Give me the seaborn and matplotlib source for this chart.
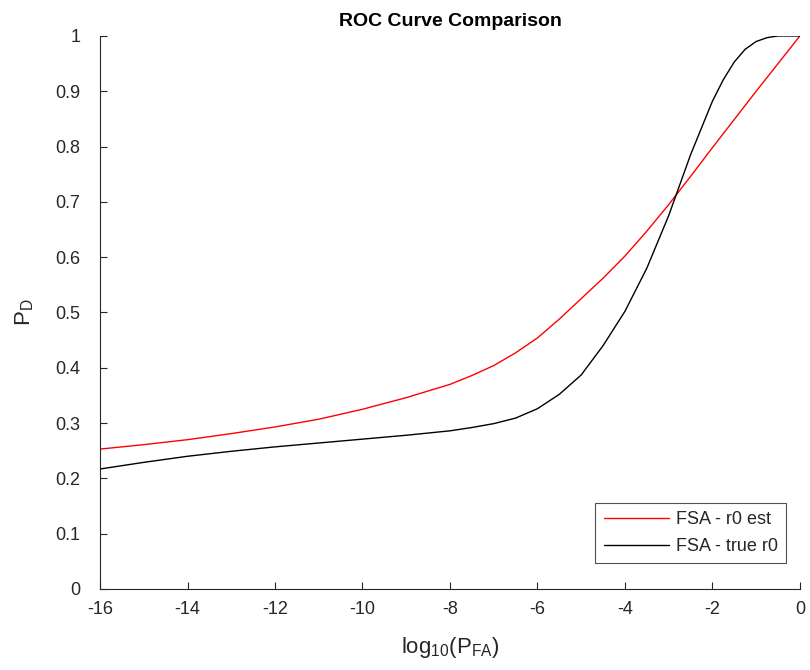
#
# plot.py
#   - ROC curve comparison, MATLAB style.
#

import numpy as np
import pandas as pd
import seaborn as sns
import matplotlib
matplotlib.use("Agg")
import matplotlib.pyplot as plt

# log10(P_FA) positions and P_D values
log_pfa_est = [-16, -15, -14, -13, -12, -11, -10, -9, -8, -7.5, -7, -6.5, -6,
               -5.5, -5, -4.5, -4, -3.5, -3, -2.5, -2, -1.5, -1, -0.5, 0]
pd_est = [0.253, 0.261, 0.270, 0.281, 0.293, 0.307, 0.325, 0.346, 0.370, 0.386,
          0.404, 0.427, 0.454, 0.488, 0.525, 0.562, 0.602, 0.647, 0.695, 0.746,
          0.798, 0.849, 0.900, 0.950, 1.0]

log_pfa_true = [-16, -15, -14, -13, -12, -11, -10, -9, -8, -7.5, -7, -6.5, -6,
                -5.5, -5, -4.5, -4, -3.5, -3, -2.5, -2, -1.75, -1.5, -1.25, -1,
                -0.75, -0.5, -0.25, 0]
pd_true = [0.217, 0.229, 0.240, 0.249, 0.257, 0.264, 0.271, 0.278, 0.286, 0.292,
           0.299, 0.309, 0.326, 0.352, 0.387, 0.440, 0.502, 0.580, 0.675, 0.785,
           0.882, 0.921, 0.953, 0.976, 0.990, 0.997, 1.0, 1.0, 1.0]

series_names = ["FSA - r0 est", "FSA - true r0"]
tick_x = list(range(-16, 1, 2))
tick_y = [round(v * 0.1, 1) for v in range(0, 11)]


def main():
    df = pd.concat([
        pd.DataFrame({"x": log_pfa_est, "y": pd_est, "curve": series_names[0]}),
        pd.DataFrame({"x": log_pfa_true, "y": pd_true, "curve": series_names[1]}),
    ])

    sns.set_style("white")
    plt.rcParams["font.family"] = ["Liberation Sans", "DejaVu Sans"]
    plt.rcParams["mathtext.default"] = "regular"
    plt.rcParams["xtick.direction"] = "in"
    plt.rcParams["ytick.direction"] = "in"

    fig = plt.figure(figsize=(8.1, 6.7), dpi=100)
    ax = fig.add_axes([0.1235, 0.1209, 0.864, 0.8254])

    sns.lineplot(data=df, x="x", y="y", hue="curve", sort=True,
                 palette={series_names[0]: "#ff0000", series_names[1]: "#000000"},
                 linewidth=1.0, ax=ax)

    ax.set_xlim(-16, 0)
    ax.set_ylim(0, 1)
    ax.set_xticks(tick_x)
    ax.set_yticks(tick_y)
    ax.set_xticklabels([str(t) for t in tick_x])
    ax.set_yticklabels(["0"] + [f"{t:g}" for t in tick_y[1:]])

    dark = "#262626"
    ax.tick_params(bottom=True, left=True, top=False, right=False,
                   direction="in", length=5, width=0.8, labelsize=13,
                   colors=dark)
    ax.tick_params(axis="x", direction="in", pad=9)
    ax.tick_params(axis="y", direction="in", pad=14)
    for side in ["top", "right"]:
        ax.spines[side].set_visible(False)
    for side in ["left", "bottom"]:
        ax.spines[side].set_color(dark)
        ax.spines[side].set_linewidth(0.8)

    ax.set_xlabel(r"log$_{10}$(P$_{FA}$)", fontsize=16, color=dark, labelpad=12)
    ax.set_ylabel(r"P$_{D}$", fontsize=16, color=dark, labelpad=14)
    ax.set_title("ROC Curve Comparison", fontsize=14, fontweight="bold",
                 color="black", pad=7)

    leg = ax.legend(loc="lower right", fontsize=13, handlelength=3.6,
                    frameon=True, fancybox=False, borderpad=0.45,
                    labelspacing=0.55, handletextpad=0.4,
                    bbox_to_anchor=(0.993, 0.03))
    leg.get_frame().set_edgecolor(dark)
    leg.get_frame().set_linewidth(0.8)
    leg.set_title(None)

    plt.savefig("out.png", dpi=100)


if __name__ == '__main__':
    main()
